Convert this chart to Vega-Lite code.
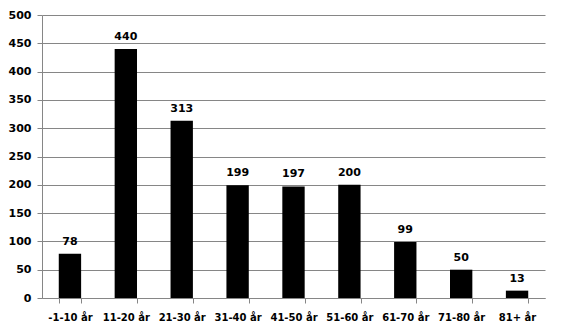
{
  "$schema": "https://vega.github.io/schema/vega-lite/v6.json",
  "width": 503,
  "height": 283,
  "autosize": {"type": "none"},
  "padding": {"left": 42, "top": 15, "right": 17, "bottom": 36},
  "background": "white",
  "config": {"view": {"stroke": null}},
  "data": {"values": [
    {"grupp": "-1-10 år", "antal": 78},
    {"grupp": "11-20 år", "antal": 440},
    {"grupp": "21-30 år", "antal": 313},
    {"grupp": "31-40 år", "antal": 199},
    {"grupp": "41-50 år", "antal": 197},
    {"grupp": "51-60 år", "antal": 200},
    {"grupp": "61-70 år", "antal": 99},
    {"grupp": "71-80 år", "antal": 50},
    {"grupp": "81+ år", "antal": 13}
  ]},
  "encoding": {
    "x": {
      "field": "grupp", "type": "nominal", "sort": null,
      "scale": {"paddingInner": 0.6, "paddingOuter": 0.3},
      "axis": {
        "title": null, "labelAngle": 0, "labelFont": "DejaVu Sans", "labelFontWeight": "bold",
        "labelFontSize": 10, "labelColor": "black", "labelPadding": 9,
        "domainColor": "#868686", "tickColor": "#868686", "tickSize": 5, "tickBand": "extent"
      }
    },
    "y": {
      "field": "antal", "type": "quantitative",
      "scale": {"domain": [0, 500]},
      "axis": {
        "title": null, "values": [0,50,100,150,200,250,300,350,400,450,500],
        "labelFont": "DejaVu Sans", "labelFontWeight": "bold", "labelFontSize": 11,
        "labelColor": "black", "labelPadding": 6,
        "domainColor": "#868686", "tickColor": "#868686", "tickSize": 5,
        "gridColor": "#868686", "gridOpacity": 1
      }
    }
  },
  "layer": [
    {"mark": {"type": "bar", "color": "black"}},
    {"mark": {"type": "text", "baseline": "bottom", "dy": -7, "font": "DejaVu Sans", "fontWeight": "bold", "fontSize": 11, "color": "black"},
     "encoding": {"text": {"field": "antal", "type": "quantitative"}}}
  ]
}
